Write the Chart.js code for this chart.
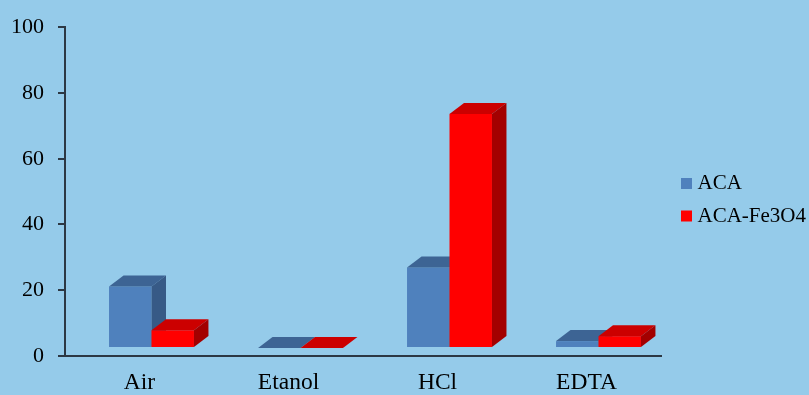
<!DOCTYPE html>
<html>
<head>
<meta charset="utf-8">
<script src="https://cdn.jsdelivr.net/npm/chart.js@4.4.0/dist/chart.umd.min.js"></script>
<style>
  html, body { margin: 0; padding: 0; background: #95cbea; }
  #wrap { width: 809px; height: 395px; }
</style>
</head>
<body>
<div id="wrap"><canvas id="grafik"></canvas></div>
<script>
// Data
const kategori = ['Air', 'Etanol', 'HCl', 'EDTA'];
const nilaiACA = [18.7, 0, 24.5, 2.1];
const nilaiACAFe = [5.4, 0, 71.2, 3.6];
const labelSeri = ['ACA', 'ACA-Fe3O4'];
const tickY = [0, 20, 40, 60, 80, 100];

// warna tiap seri: muka depan, atas, samping
const warna = [
  { depan: '#4f81bd', atas: '#3d6494', samping: '#375a86' },
  { depan: '#ff0000', atas: '#cc0000', samping: '#a30000' }
];

const DALAM_X = 14.5, DALAM_Y = 11;   // kedalaman kotak 3D
const GESER_X = 12, GESER_Y = -8;     // geser muka depan dari sumbu
const warnaSumbu = '#2c3844';
const huruf = 'Liberation Serif, Times New Roman, serif';

// gambar batang sebagai kotak 3D, urut per kategori
const bar3d = {
  id: 'bar3d',
  beforeDatasetsDraw(chart) {
    const ctx = chart.ctx;
    ctx.save();
    chart.data.labels.forEach((lbl, i) => {
      chart.data.datasets.forEach((ds, d) => {
        const el = chart.getDatasetMeta(d).data[i];
        const { x, y, base, width } = el.getProps(['x', 'y', 'base', 'width'], true);
        const l = x - width / 2 + GESER_X, r = x + width / 2 + GESER_X;
        const t = y + GESER_Y, b = base + GESER_Y;
        const c = warna[d];

        ctx.fillStyle = c.depan;
        ctx.fillRect(l, t, r - l, b - t);

        ctx.fillStyle = c.atas;
        ctx.beginPath();
        ctx.moveTo(l, t);
        ctx.lineTo(l + DALAM_X, t - DALAM_Y);
        ctx.lineTo(r + DALAM_X, t - DALAM_Y);
        ctx.lineTo(r, t);
        ctx.closePath();
        ctx.fill();

        ctx.fillStyle = c.samping;
        ctx.beginPath();
        ctx.moveTo(r, t);
        ctx.lineTo(r + DALAM_X, t - DALAM_Y);
        ctx.lineTo(r + DALAM_X, b - DALAM_Y);
        ctx.lineTo(r, b);
        ctx.closePath();
        ctx.fill();
      });
    });
    ctx.restore();
    return false;
  }
};

// legenda di kanan
const legendaKanan = {
  id: 'legendaKanan',
  afterDraw(chart) {
    const ctx = chart.ctx;
    ctx.save();
    ctx.font = '21px ' + huruf;
    ctx.textBaseline = 'alphabetic';
    chart.data.datasets.forEach((ds, d) => {
      const yb = 189 + d * 32.5;
      ctx.fillStyle = ds.backgroundColor;
      ctx.fillRect(681, yb - 11, 11, 11);
      ctx.fillStyle = '#000';
      ctx.fillText(ds.label, 697.5, yb);
    });
    ctx.restore();
  }
};

const latar = {
  id: 'latar',
  beforeDraw(chart) {
    const ctx = chart.ctx;
    ctx.save();
    ctx.fillStyle = '#95cbea';
    ctx.fillRect(0, 0, chart.width, chart.height);
    ctx.restore();
  }
};

new Chart(document.getElementById('grafik'), {
  type: 'bar',
  data: {
    labels: kategori,
    datasets: [
      { label: labelSeri[0], data: nilaiACA, backgroundColor: warna[0].depan },
      { label: labelSeri[1], data: nilaiACAFe, backgroundColor: warna[1].depan }
    ]
  },
  options: {
    responsive: true,
    maintainAspectRatio: false,
    animation: false,
    layout: { padding: { top: 19, right: 148, bottom: 0, left: 0 } },
    datasets: { bar: { categoryPercentage: 0.57, barPercentage: 1.0 } },
    plugins: {
      legend: { display: false },
      tooltip: { enabled: false }
    },
    scales: {
      x: {
        grid: { display: false, drawTicks: false },
        border: { display: true, color: warnaSumbu, width: 2 },
        ticks: { color: '#000', font: { family: huruf, size: 23.5 }, padding: 13 },
        afterFit: s => { s.height = 39; }
      },
      y: {
        min: 0,
        max: 100,
        afterBuildTicks: s => { s.ticks = tickY.map(v => ({ value: v })); },
        grid: { drawOnChartArea: false, drawTicks: true, tickLength: 7, color: warnaSumbu, lineWidth: 2 },
        border: { display: true, color: warnaSumbu, width: 2 },
        ticks: { color: '#000', font: { family: huruf, size: 22 }, padding: 14 },
        afterFit: s => { s.width = 65; }
      }
    }
  },
  plugins: [latar, bar3d, legendaKanan]
});
</script>
</body>
</html>
